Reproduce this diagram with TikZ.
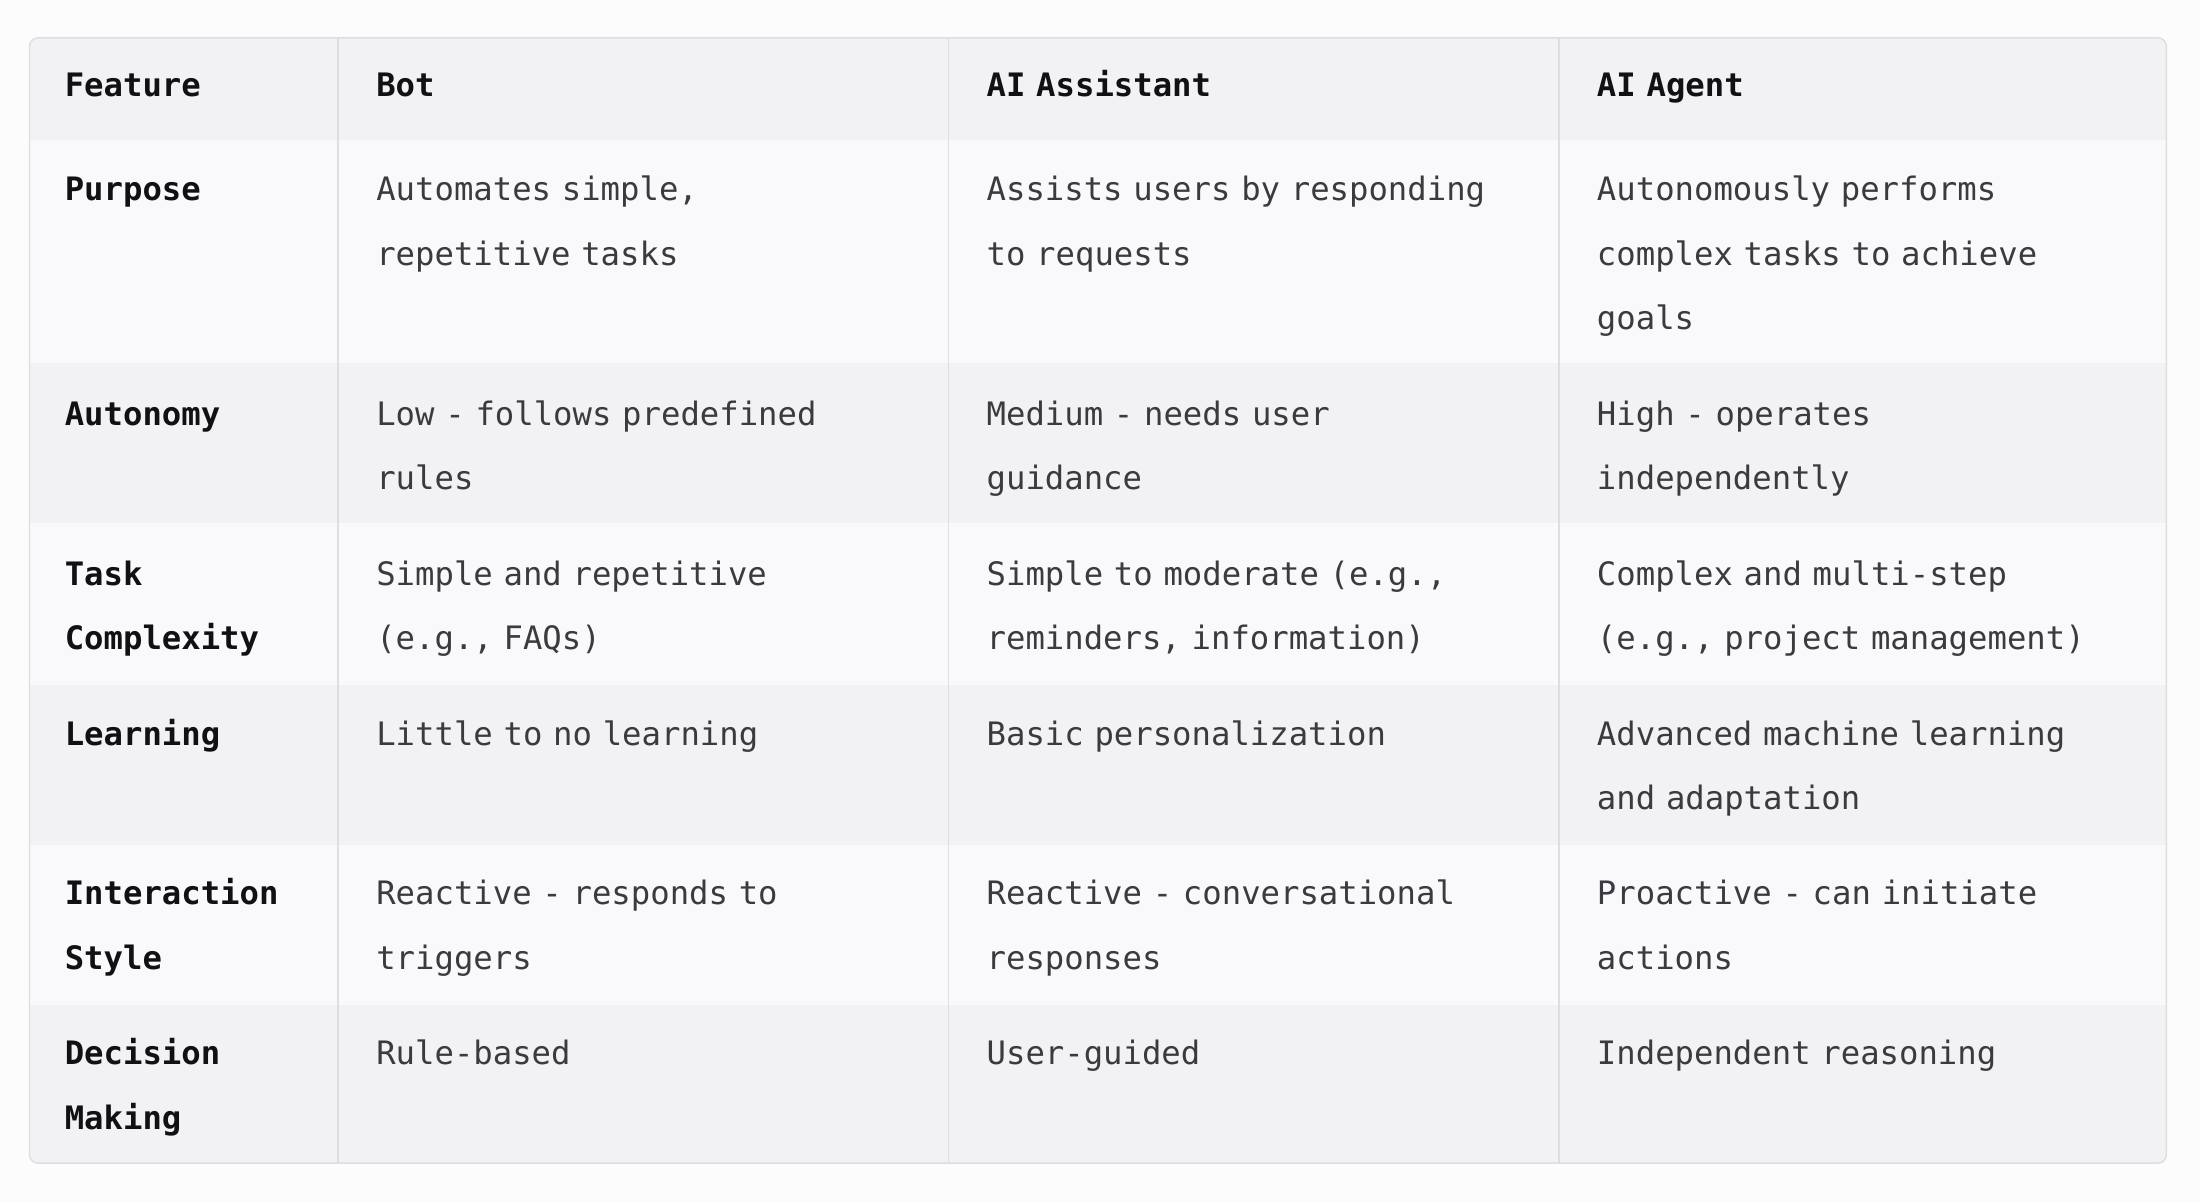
\documentclass[tikz,border=0pt]{standalone}
\usepackage{fontspec}
\setmonofont{DejaVu Sans Mono}
\definecolor{pagebg}{HTML}{FCFCFD}
\definecolor{hdr}{HTML}{F2F2F4}
\definecolor{rowa}{HTML}{F9F9FB}
\definecolor{rowb}{HTML}{F2F2F4}
\definecolor{grid}{HTML}{DEDEE2}
\definecolor{txt}{HTML}{3A3A40}
\definecolor{bold}{HTML}{111114}
\tikzset{
 cell/.style={anchor=base west,inner sep=0pt,align=left,text width=400pt,text=txt,
   font=\ttfamily\fontsize{23}{46}\selectfont},
 head/.style={cell,text=bold,font=\ttfamily\bfseries\fontsize{23}{46}\selectfont},
}
\begin{document}
\begin{tikzpicture}[x=1pt,y=-1pt]
\fill[pagebg] (0,0) rectangle (1568,857);
\useasboundingbox (0,0) rectangle (1568,857);
\begin{scope}
\clip[rounded corners=6pt] (21,27) rectangle (1544,829);
\fill[hdr] (21,27) rectangle (1544,100);
\fill[rowa] (21,100) rectangle (1544,259);
\fill[rowb] (21,259) rectangle (1544,373);
\fill[rowa] (21,373) rectangle (1544,488);
\fill[rowb] (21,488) rectangle (1544,602);
\fill[rowa] (21,602) rectangle (1544,716);
\fill[rowb] (21,716) rectangle (1544,829);
\end{scope}
\draw[grid,line width=1pt] (241,27) -- (241,829) (676,27) -- (676,829) (1111,27) -- (1111,829);
\draw[grid,line width=1pt,rounded corners=6pt] (21,27) rectangle (1544,829);
% header
\node[head] (h1) at (46,69) {Feature};
\node[head] (h2) at (268,69) {Bot};
\node[head] (h3) at (703,69) {AI Assistant};
\node[head] (h4) at (1138,69) {AI Agent};
% rows
\node[head] (r1) at (46,143) {Purpose};
\node[cell] (r1b) at (268,143) {Automates simple,\\repetitive tasks};
\node[cell] (r1c) at (703,143) {Assists users by responding\\to requests};
\node[cell] (r1d) at (1138,143) {Autonomously performs\\complex tasks to achieve\\goals};
\node[head] (r2) at (46,303) {Autonomy};
\node[cell] (r2b) at (268,303) {Low - follows predefined\\rules};
\node[cell] (r2c) at (703,303) {Medium - needs user\\guidance};
\node[cell] (r2d) at (1138,303) {High - operates\\independently};
\node[head] (r3) at (46,417) {Task\\Complexity};
\node[cell] (r3b) at (268,417) {Simple and repetitive\\(e.g., FAQs)};
\node[cell] (r3c) at (703,417) {Simple to moderate (e.g.,\\reminders, information)};
\node[cell] (r3d) at (1138,417) {Complex and multi-step\\(e.g., project management)};
\node[head] (r4) at (46,531) {Learning};
\node[cell] (r4b) at (268,531) {Little to no learning};
\node[cell] (r4c) at (703,531) {Basic personalization};
\node[cell] (r4d) at (1138,531) {Advanced machine learning\\and adaptation};
\node[head] (r5) at (46,645) {Interaction\\Style};
\node[cell] (r5b) at (268,645) {Reactive - responds to\\triggers};
\node[cell] (r5c) at (703,645) {Reactive - conversational\\responses};
\node[cell] (r5d) at (1138,645) {Proactive - can initiate\\actions};
\node[head] (r6) at (46,759) {Decision\\Making};
\node[cell] (r6b) at (268,759) {Rule-based};
\node[cell] (r6c) at (703,759) {User-guided};
\node[cell] (r6d) at (1138,759) {Independent reasoning};
\end{tikzpicture}
\end{document}
